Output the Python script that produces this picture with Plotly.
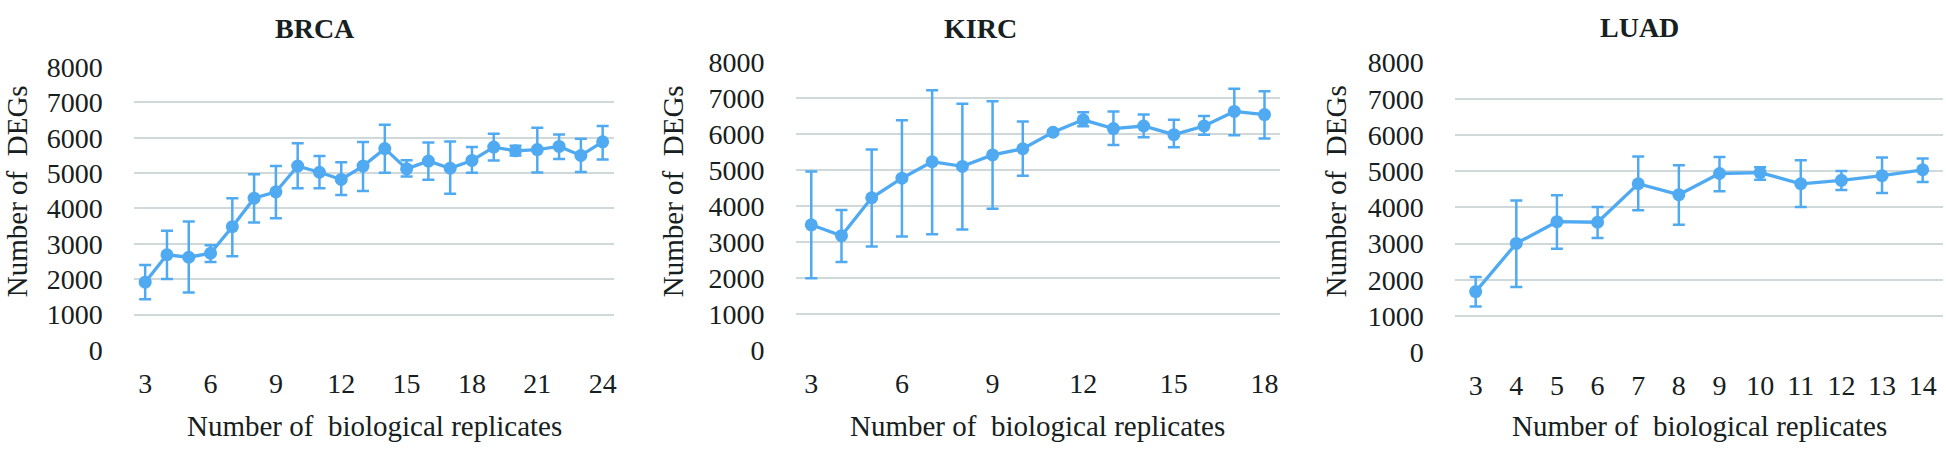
import plotly.graph_objects as go

# ---------------- data ----------------
brca_x = list(range(3, 25))
brca_y = [1918, 2693, 2623, 2736, 3485, 4293, 4470, 5200, 5024, 4821, 5200,
          5693, 5121, 5340, 5139, 5358, 5735, 5630, 5666, 5753, 5498, 5885]
brca_hi = [2404, 3370, 3633, 2958, 4293, 4971, 5200, 5847, 5487, 5306, 5882,
           6367, 5366, 5867, 5894, 5735, 6114, 5770, 6280, 6088, 5973, 6333]
brca_lo = [1435, 2008, 1628, 2491, 2649, 3607, 3723, 4575, 4575, 4382, 4496,
           5008, 4903, 4813, 4418, 5008, 5358, 5500, 5016, 5402, 5034, 5384]

kirc_x = list(range(3, 19))
kirc_y = [3484, 3182, 4236, 4780, 5238, 5108, 5427, 5600, 6058, 6404, 6161,
          6231, 5990, 6231, 6637, 6549]
kirc_hi = [4969, 3899, 5575, 6394, 7223, 6852, 6922, 6360, 6110, 6611, 6637,
           6549, 6404, 6508, 7267, 7197]
kirc_lo = [2000, 2448, 2880, 3156, 3225, 3355, 3933, 4849, 6000, 6222, 5705,
           5920, 5643, 5990, 5972, 5886]

luad_x = list(range(3, 15))
luad_y = [1674, 3005, 3605, 3589, 4652, 4351, 4936, 4961, 4652, 4747, 4876, 5039]
luad_hi = [2078, 4189, 4336, 4009, 5407, 5167, 5391, 5108, 5304, 5005, 5381, 5348]
luad_lo = [1262, 1802, 2858, 3151, 3924, 3520, 4446, 4763, 4009, 4480, 4395, 4704]

titles = ["BRCA", "KIRC", "LUAD"]
x_title = "Number of  biological replicates"
y_title = "Number of  DEGs"
y_tickvals = [0, 1000, 2000, 3000, 4000, 5000, 6000, 7000, 8000]
brca_ticks = [3, 6, 9, 12, 15, 18, 21, 24]
kirc_ticks = [3, 6, 9, 12, 15, 18]
luad_ticks = list(range(3, 15))

# ---------------- style / layout ----------------
W, H = 1946, 458
LINE = "#4faaf2"
GRID = "#d0d9da"
TXT = "#162020"
FONT = "Liberation Serif, Times New Roman, serif"

panels = [
    dict(x=brca_x, y=brca_y, hi=brca_hi, lo=brca_lo, ticks=brca_ticks,
         xr=[2.5, 24.5], px=(134.5, 614.5), py=(55.7, 359.4),
         title_xy=(315, 14), ytitle_x=17, xtitle_x=375),
    dict(x=kirc_x, y=kirc_y, hi=kirc_hi, lo=kirc_lo, ticks=kirc_ticks,
         xr=[2.5, 18.5], px=(797.4, 1281.6), py=(50.8, 359.5),
         title_xy=(982, 14), ytitle_x=674, xtitle_x=1039),
    dict(x=luad_x, y=luad_y, hi=luad_hi, lo=luad_lo, ticks=luad_ticks,
         xr=[2.5, 14.5], px=(1457.6, 1946), py=(51.0, 361.7),
         title_xy=(1642, 13), ytitle_x=1338, xtitle_x=1702),
]

fig = go.Figure()
annotations = []
layout_axes = {}

for i, p in enumerate(panels):
    n = "" if i == 0 else str(i + 1)
    plus = [h - v for h, v in zip(p["hi"], p["y"])]
    minus = [v - l for v, l in zip(p["y"], p["lo"])]
    fig.add_trace(go.Scatter(
        x=p["x"], y=p["y"], mode="lines+markers",
        line=dict(color=LINE, width=3.3),
        marker=dict(color=LINE, size=13),
        error_y=dict(type="data", symmetric=False, array=plus, arrayminus=minus,
                     color=LINE, thickness=2.5, width=6),
        xaxis="x" + n, yaxis="y" + n, showlegend=False, hoverinfo="skip"))

    x0, x1 = p["px"]
    ytop, ybot = p["py"]
    layout_axes["xaxis" + n] = dict(
        domain=[x0 / W, min(x1 / W, 1.0)], range=p["xr"], anchor="y" + n,
        tickmode="array", tickvals=p["ticks"], showgrid=False, zeroline=False,
        showline=False, ticks="outside", ticklen=8, tickcolor="rgba(0,0,0,0)",
        tickfont=dict(family=FONT, size=28, color=TXT), fixedrange=True)
    layout_axes["yaxis" + n] = dict(
        domain=[1 - ybot / H, 1 - ytop / H], range=[-1, 8001], anchor="x" + n,
        tickmode="array", tickvals=y_tickvals, showgrid=True, gridcolor=GRID,
        gridwidth=2, zeroline=False, showline=False, ticks="outside",
        ticklen=25, tickcolor="rgba(0,0,0,0)",
        tickfont=dict(family=FONT, size=28, color=TXT), fixedrange=True)

    tx, ty = p["title_xy"]
    annotations.append(dict(text="<b>" + titles[i] + "</b>", x=tx / W, y=1 - ty / H,
                            xref="paper", yref="paper", showarrow=False,
                            xanchor="center", yanchor="middle",
                            font=dict(family=FONT, size=28, color=TXT)))
    annotations.append(dict(text=y_title, x=p["ytitle_x"] / W, y=1 - 189 / H,
                            xref="paper", yref="paper", showarrow=False,
                            textangle=-90, xanchor="center", yanchor="middle",
                            font=dict(family=FONT, size=29, color=TXT)))
    annotations.append(dict(text=x_title, x=p["xtitle_x"] / W, y=1 - 441 / H,
                            xref="paper", yref="paper", showarrow=False,
                            xanchor="center", yanchor="middle",
                            font=dict(family=FONT, size=29, color=TXT)))

fig.update_layout(
    width=W, height=H, margin=dict(l=0, r=0, t=0, b=0),
    paper_bgcolor="white", plot_bgcolor="white",
    annotations=annotations, **layout_axes)

fig.write_html(
    "out.html", config={"displayModeBar": False},
    post_script="document.body.style.margin='0';document.body.style.padding='0';"
                "document.documentElement.style.overflow='hidden';")
